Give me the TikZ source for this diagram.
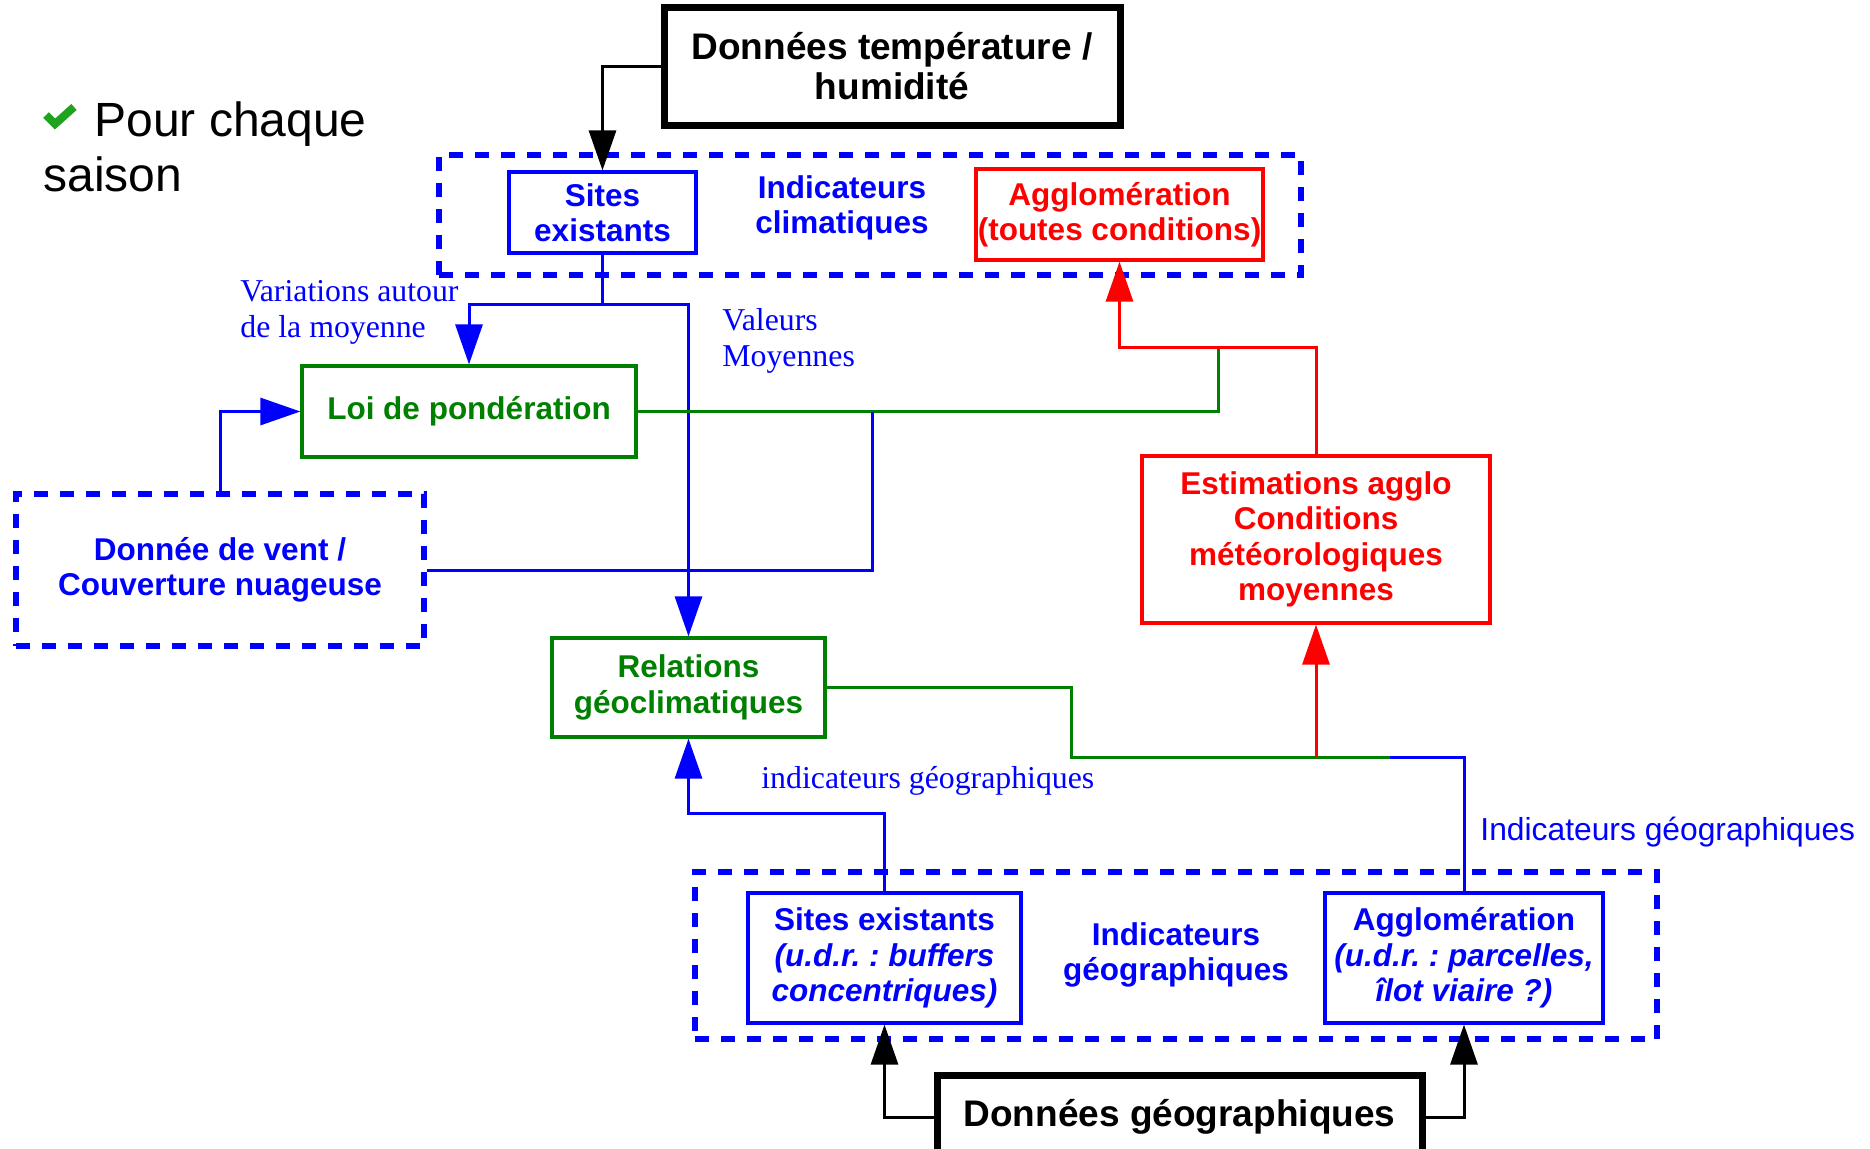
\documentclass[tikz,border=0pt]{standalone}
\usepackage{fontspec}
\setmainfont{Liberation Sans}
\newfontfamily\labelserif{Liberation Serif}
\usepackage{tikz}
\usetikzlibrary{arrows.meta, positioning}
\frenchspacing
\definecolor{geoblue}{HTML}{0000FF}
\definecolor{loigreen}{HTML}{008000}
\definecolor{estred}{HTML}{FF0000}
\definecolor{checkgreen}{HTML}{1FA31F}
\tikzset{
  blackbox/.style={
    rectangle, draw=black, line width=3.5pt, fill=white,
    text centered, align=center, inner sep=0pt,
    font=\fontsize{18.5}{20}\selectfont\bfseries,
  },
  bluebox/.style={
    rectangle, draw=geoblue, line width=1.6pt, fill=white,
    text=geoblue, text centered, align=center, inner sep=0pt,
    font=\fontsize{15.75}{17.75}\selectfont\bfseries,
  },
  greenbox/.style={bluebox, draw=loigreen, text=loigreen},
  redbox/.style={bluebox, draw=estred, text=estred},
  groupbox/.style={
    rectangle, draw=geoblue, line width=3pt,
    dash pattern=on 7pt off 6pt, inner sep=0pt,
  },
  grouplabel/.style={
    text=geoblue, align=center, inner sep=0pt,
    font=\fontsize{15.75}{17.75}\selectfont\bfseries,
  },
  edgelabel/.style={
    text=geoblue, align=left, inner sep=0pt,
    font=\labelserif\fontsize{15.9}{18}\selectfont,
  },
  blkarrow/.style={-{Triangle[length=20pt,width=13.5pt]}, line width=1.5pt, draw=black},
  bluearrow/.style={-{Triangle[length=20pt,width=13.5pt]}, line width=1.5pt, draw=geoblue},
  redarrow/.style={-{Triangle[length=20pt,width=13.5pt]}, line width=1.5pt, draw=estred},
  blueline/.style={line width=1.5pt, draw=geoblue},
  greenline/.style={line width=1.5pt, draw=loigreen},
}

\begin{document}
\begin{tikzpicture}[x=0.5pt,y=-0.5pt]
  \useasboundingbox (0,0) rectangle (1870,1148);
  \fill[white] (0,0) rectangle (1870,1148);
  % season note
  \draw[checkgreen, line width=4pt] (46,115) -- (55,124) -- (74,107);
  \node[anchor=north west, inner sep=0pt, align=left, font=\fontsize{24}{27.5}\selectfont] (season) at (43,101) {\hspace*{25.5pt}Pour chaque\\saison};
  % dashed groups
  \node[groupbox, minimum width=431pt, minimum height=60pt] (climgroup) at (870,215) {};
  \node[groupbox, minimum width=481pt, minimum height=83.5pt] (geogroup) at (1176,955.5) {};
  \node[groupbox, grouplabel, minimum width=204pt, minimum height=76pt] (wind) at (220,570) {Donnée de vent /\\Couverture nuageuse};
  % boxes
  \node[blackbox, minimum width=228pt, minimum height=59pt] (tempdata) at (892,66) {Données température /\\humidité};
  \node[bluebox, minimum width=93.5pt, minimum height=40.5pt] (sitesclim) at (602.5,212.5) {Sites\\existants};
  \node[grouplabel] (climlabel) at (842,208) {Indicateurs\\climatiques};
  \node[redbox, minimum width=143.5pt, minimum height=45.5pt] (aggloclim) at (1119.5,214.5) {Agglomération\\(toutes conditions)};
  \node[greenbox, minimum width=167pt, minimum height=45.5pt] (weighting) at (469,411.5) {Loi de pondération};
  \node[greenbox, minimum width=136.5pt, minimum height=49.5pt] (relations) at (688.5,687.5) {Relations\\géoclimatiques};
  \node[redbox, minimum width=174pt, minimum height=83.5pt] (estimation) at (1316,539.5) {Estimations agglo\\Conditions\\météorologiques\\moyennes};
  \node[bluebox, minimum width=136.5pt, minimum height=65pt] (sitesgeo) at (884.5,958) {Sites existants\\\textit{(u.d.r. : buffers}\\\textit{concentriques)}};
  \node[grouplabel] (geolabel) at (1176,955) {Indicateurs\\géographiques};
  \node[bluebox, minimum width=139pt, minimum height=65pt] (agglogeo) at (1464,958) {Agglomération\\\textit{(u.d.r. : parcelles,}\\\textit{îlot viaire ?)}};
  \node[blackbox, minimum width=242.5pt, minimum height=42pt] (geodata) at (1179.5,1117) {Données géographiques};
  % labels
  \node[edgelabel, anchor=north west] (varlabel) at (240,280) {Variations autour\\de la moyenne};
  \node[edgelabel, anchor=north west] (meanlabel) at (722,308) {Valeurs\\Moyennes};
  \node[edgelabel, anchor=base west] (geoindlow) at (761,788) {indicateurs géographiques};
  \node[edgelabel, anchor=base west, font=\fontsize{15.9}{18}\selectfont] (geoindright) at (1480,840) {Indicateurs géographiques};
  % connectors
  \coordinate (redjoin) at (1218,347);
  \coordinate (windjoin) at (872,411.5);
  \coordinate (geobend) at (1071,757);
  \coordinate (geomeet) at (1390,757);
  \coordinate (estfoot) at (1316,757);
  \draw[blkarrow] (tempdata.west) -| (sitesclim.north);
  \draw[bluearrow] (sitesclim.south) -- ++(0,50) -| (weighting.north);
  \draw[bluearrow] (sitesclim.south) -- ++(0,50) -| (relations.north);
  \draw[bluearrow] (wind.north) |- (weighting.west);
  \draw[greenline] (weighting.east) -| (redjoin);
  \draw[blueline] (wind.east) -| (windjoin);
  \draw[redarrow] (estimation.north) |- (redjoin) -| (aggloclim.south);
  \draw[greenline] (relations.east) -| (geobend) -- (geomeet);
  \draw[blueline] (agglogeo.north) |- (geomeet);
  \draw[redarrow] (estfoot) -- (estimation.south);
  \draw[bluearrow] (sitesgeo.north) -- ++(0,-78) -| (relations.south);
  \draw[blkarrow] (geodata.west) -| (sitesgeo.south);
  \draw[blkarrow] (geodata.east) -| (agglogeo.south);
\end{tikzpicture}
\end{document}
